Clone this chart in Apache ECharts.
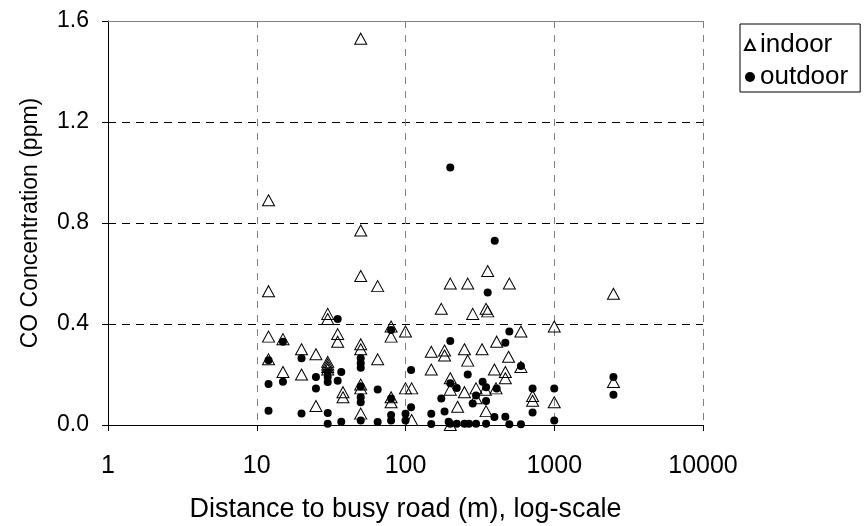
<!DOCTYPE html>
<html>
<head>
<meta charset="utf-8">
<script src="https://cdn.jsdelivr.net/npm/echarts@6/dist/echarts.min.js"></script>
<style>html,body{margin:0;padding:0;background:#fff}#c{width:867px;height:526px}</style>
</head>
<body>
<div id="c"></div>
<script>
// Indoor CO (triangles): distance (m) and concentration (ppm)
var indoorX = [12,12,12,12, 15,15, 20,20, 25,25, 30,30,30,30,30,30, 35,35, 38,38,
  50,50,50,50,50,50,50,50, 65,65, 80,80,80,80, 100,100, 110,110, 149,149, 174, 183,183,
  200,200,200,200, 224, 249,249, 262,262, 283, 298,298, 327, 344, 348,348, 357,357,
  396, 406, 410, 469,469, 493, 499, 597,597, 715,715, 1000,1000, 2500,2500];
var indoorY = [0.89,0.53,0.35,0.26, 0.34,0.21, 0.30,0.20, 0.28,0.075, 0.44,0.42,0.25,0.24,0.23,0.22, 0.36,0.33, 0.13,0.11,
  1.53,0.77,0.59,0.32,0.30,0.16,0.145,0.045, 0.55,0.26, 0.39,0.35,0.11,0.09, 0.37,0.145, 0.145,0.02, 0.29,0.22, 0.46, 0.295,0.275,
  0.56,0.185,0.14,0.0, 0.072, 0.30,0.13, 0.56,0.255, 0.44, 0.145,0.106, 0.30, 0.14, 0.46,0.055, 0.61,0.45,
  0.22, 0.145, 0.33, 0.21,0.185, 0.27, 0.56, 0.37,0.23, 0.115,0.096, 0.39,0.09, 0.52,0.17];

// Outdoor CO (dots)
var outdoorX = [12,12,12, 15,15, 20,20, 25,25, 30,30,30,30,30, 35,35, 37,37,
  50,50,50,50,50,50,50, 65,65, 80,80,80,80, 100,100, 109,109, 149,149, 174, 183,
  200,200,200,200, 195, 221,221, 249, 262, 267, 283, 298,298, 330, 348,348,348, 357,
  398,396, 410, 469,469, 499,499, 597,597, 715,715, 1000,1000, 2500,2500];
var outdoorY = [0.256,0.162,0.056, 0.33,0.171, 0.264,0.046, 0.19,0.145, 0.21,0.19,0.17,0.048,0.005, 0.42,0.175, 0.21,0.013,
  0.264,0.245,0.227,0.152,0.11,0.09,0.018, 0.141,0.012, 0.376,0.105,0.04,0.018, 0.045,0.018, 0.218,0.07, 0.045,0.004, 0.105, 0.053,
  1.02,0.333,0.165,0.005, 0.013, 0.147,0.005, 0.005, 0.20, 0.005, 0.085, 0.117,0.005, 0.171, 0.15,0.095,0.005, 0.525,
  0.73,0.032, 0.145, 0.326,0.033, 0.37,0.003, 0.234,0.003, 0.145,0.05, 0.145,0.018, 0.19,0.12];

var xTicks = [1, 10, 100, 1000, 10000];
var yTicks = [0.0, 0.4, 0.8, 1.2, 1.6];
var seriesNames = ['indoor', 'outdoor'];
var xTitle = 'Distance to busy road (m), log-scale';
var yTitle = 'CO Concentration (ppm)';

function pairs(xs, ys) { return xs.map(function (x, i) { return [x, ys[i]]; }); }

var FONT = '"Liberation Sans", Arial, sans-serif';
var chart = echarts.init(document.getElementById('c'), null, { renderer: 'canvas' });
chart.setOption({
  animation: false,
  backgroundColor: '#fff',
  textStyle: { fontFamily: FONT, color: '#000' },
  grid: { left: 108, right: 164, top: 21, bottom: 101, containLabel: false, outerBoundsMode: 'none' },
  legend: {
    orient: 'vertical', left: 740, top: 24,
    backgroundColor: '#fff', borderColor: '#000', borderWidth: 1,
    padding: [8, 12, 2, 4], itemGap: 6, itemWidth: 10, itemHeight: 10,
    textStyle: { fontSize: 26, color: '#000', fontFamily: FONT },
    data: [{ name: seriesNames[0], icon: 'triangle' }, { name: seriesNames[1], icon: 'circle' }]
  },
  xAxis: [{
    type: 'log', logBase: 10, min: xTicks[0], max: xTicks[xTicks.length - 1],
    name: xTitle, nameLocation: 'middle', nameGap: 71,
    nameTextStyle: { fontSize: 27, color: '#000', fontFamily: FONT },
    axisLine: { show: true, lineStyle: { color: '#000', width: 1 } },
    axisTick: { show: true, length: 6, lineStyle: { color: '#000' } },
    minorTick: { show: false },
    axisLabel: { fontSize: 25, color: '#000', margin: 29, fontFamily: FONT,
      formatter: function (v) { return String(Math.round(v)); } },
    splitLine: { show: true, showMinLine: false, showMaxLine: true,
      lineStyle: { color: '#808080', type: [7, 7], width: 1 } }
  }, {
    type: 'log', logBase: 10, min: xTicks[0], max: xTicks[xTicks.length - 1], position: 'top',
    axisLine: { show: true, onZero: false, lineStyle: { color: '#808080', width: 1 } },
    axisTick: { show: false }, axisLabel: { show: false }, splitLine: { show: false }
  }],
  yAxis: {
    type: 'value', min: yTicks[0], max: yTicks[yTicks.length - 1], interval: 0.4,
    name: yTitle, nameLocation: 'middle', nameGap: 66, nameRotate: 90,
    nameTextStyle: { fontSize: 23, color: '#000', fontFamily: FONT },
    axisLine: { show: true, lineStyle: { color: '#000', width: 1 } },
    axisTick: { show: true, length: 6, lineStyle: { color: '#000' } },
    axisLabel: { fontSize: 23, color: '#000', margin: 19, fontFamily: FONT,
      formatter: function (v) { return v.toFixed(1); } },
    splitLine: { show: true, showMinLine: false, showMaxLine: false,
      lineStyle: { color: '#000', type: [8, 6], width: 1 } }
  },
  series: [{
    name: seriesNames[0], type: 'scatter', symbol: 'triangle', symbolSize: [12, 11],
    itemStyle: { color: 'rgba(255,255,255,0)', borderColor: '#000', borderWidth: 1, opacity: 1 },
    data: pairs(indoorX, indoorY), z: 3
  }, {
    name: seriesNames[1], type: 'scatter', symbol: 'circle', symbolSize: 8,
    itemStyle: { color: '#000', borderColor: '#000', borderWidth: 0, opacity: 1 },
    data: pairs(outdoorX, outdoorY), z: 4
  }]
});
</script>
</body>
</html>
